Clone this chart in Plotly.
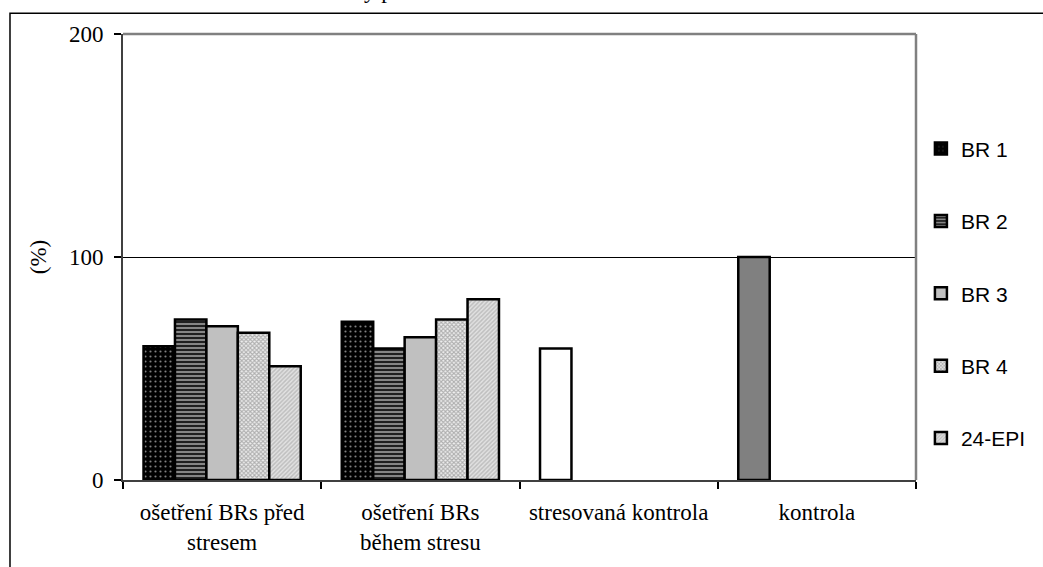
import plotly.graph_objects as go

categories = ["ošetření BRs před<br>stresem", "ošetření BRs<br>během stresu", "stresovaná kontrola", "kontrola"]
series_names = ["BR 1", "BR 2", "BR 3", "BR 4", "24-EPI"]
br1 = [60, 71, 59, 100]
br2 = [72, 59, None, None]
br3 = [69, 64, None, None]
br4 = [66, 72, None, None]
epi = [51, 81, None, None]
y_ticks = [0, 100, 200]

W, H = 1043, 567
L, R, T, B = 123, 930, 34, 484

def px_x(px):
    return (px - L) / (R - L)

def px_y(py):
    return (B - py) / (B - T)

SERIF = "Liberation Serif, Times New Roman, serif"
SANS = "Liberation Sans, Arial, sans-serif"

fig = go.Figure()
line = dict(color="black", width=2.5)

fig.add_trace(go.Bar(
    x=categories, y=br1, name=series_names[0], legend="legend",
    marker=dict(color=["black", "black", "white", "#808080"], line=line,
                pattern=dict(shape=[".", ".", "", ""], fgcolor="#555555", size=5, solidity=0.15, fillmode="overlay")),
))
fig.add_trace(go.Bar(
    x=categories, y=br2, name=series_names[1], legend="legend2",
    marker=dict(color="#202020", line=line,
                pattern=dict(shape="-", fgcolor="white", size=4, solidity=0.45, fillmode="overlay")),
))
fig.add_trace(go.Bar(
    x=categories, y=br3, name=series_names[2], legend="legend3",
    marker=dict(color="#c0c0c0", line=line),
))
fig.add_trace(go.Bar(
    x=categories, y=br4, name=series_names[3], legend="legend4",
    marker=dict(color="#f0f0f0", line=line,
                pattern=dict(shape="x", fgcolor="#6e6e6e", size=3, solidity=0.6, fillmode="overlay")),
))
fig.add_trace(go.Bar(
    x=categories, y=epi, name=series_names[4], legend="legend5",
    marker=dict(color="#e2e2e2", line=line,
                pattern=dict(shape="/", fgcolor="#9a9a9a", size=3, solidity=0.5, fillmode="overlay")),
))

legend_font = dict(family=SANS, size=21, color="black")
legend_ys = [150, 223, 296, 369, 442]
legend_keys = ["legend", "legend2", "legend3", "legend4", "legend5"]
leg_layout = {}
for key, py in zip(legend_keys, legend_ys):
    leg_layout[key] = dict(x=px_x(935), y=px_y(py), xanchor="left", yanchor="middle",
                           font=legend_font, bgcolor="rgba(0,0,0,0)", itemwidth=30)

fig.update_layout(
    width=W, height=H,
    margin=dict(l=L, r=W - R, t=T, b=H - B, pad=0),
    paper_bgcolor="white", plot_bgcolor="white",
    barmode="group", bargap=0.207, bargroupgap=0,
    showlegend=True,
    xaxis=dict(
        type="category", tickson="boundaries", ticks="outside", ticklen=7, tickwidth=1.5,
        tickcolor="black", showline=True, linecolor="#404040", linewidth=2,
        showgrid=False, tickfont=dict(family=SERIF, size=23, color="black"),
        ticklabelstandoff=10,
    ),
    yaxis=dict(
        range=[0, 200], tickvals=y_ticks, ticks="outside", ticklen=7, tickwidth=1.5, tickcolor="black",
        showline=True, linecolor="#404040", linewidth=2,
        showgrid=True, gridcolor="black", gridwidth=1, zeroline=False,
        tickfont=dict(family=SERIF, size=23, color="black"),
        ticklabelstandoff=6,
        title=dict(text="(%)", font=dict(family=SERIF, size=23, color="black"), standoff=16),
    ),
    shapes=[
        dict(type="line", xref="paper", yref="paper", x0=0, x1=1, y0=1, y1=1, line=dict(color="#808080", width=2.5)),
        dict(type="line", xref="paper", yref="paper", x0=1, x1=1, y0=0, y1=1, line=dict(color="#808080", width=2.5)),
        dict(type="rect", xref="paper", yref="paper", x0=px_x(8), x1=px_x(1060), y0=px_y(13), y1=px_y(600),
             line=dict(color="black", width=1.5), layer="above"),
    ],
    annotations=[
        dict(text="y p", xref="paper", yref="paper", x=px_x(383), y=px_y(5), xanchor="center", yanchor="bottom",
             showarrow=False, font=dict(family=SERIF, size=23, color="black")),
    ],
    **leg_layout,
)

fig.write_html("out.html")
